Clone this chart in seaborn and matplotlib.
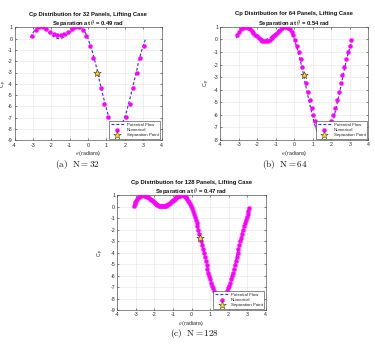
import matplotlib
matplotlib.use("Agg")
import matplotlib.pyplot as plt
import seaborn as sns

sns.set_theme(style="whitegrid")
plt.rcParams['font.family'] = ['Liberation Sans', 'DejaVu Sans']
plt.rcParams['mathtext.fontset'] = 'cm'
plt.rcParams['axes.unicode_minus'] = False

# ---------------- data ----------------
panel_counts = [32, 64, 128]
sep_theta = [0.49, 0.54, 0.47]
sep_cp = [-3.02, -2.83, -2.68]
caption_tags = ["(a)", "(b)", "(c)"]
y_lower = [-9, -8, -9]
x_ticks = [-4, -3, -2, -1, 0, 1, 2, 3, 4]

theta_32 = [-3.04, -2.85, -2.65, -2.45, -2.26, -2.06, -1.87, -1.67,
            -1.47, -1.28, -1.08, -0.88, -0.69, -0.49, -0.29, -0.10,
            0.10, 0.29, 0.49, 0.69, 0.88, 1.08, 1.28, 1.47,
            1.67, 1.87, 2.06, 2.26, 2.45, 2.65, 2.85, 3.04]
cp_32 = [0.23, 0.76, 1.00, 1.00, 0.86, 0.61, 0.42, 0.32,
         0.32, 0.42, 0.61, 0.86, 1.00, 1.00, 0.76, 0.23,
         -0.63, -1.72, -3.02, -4.40, -5.76, -6.91, -7.73, -8.12,
         -8.12, -7.73, -6.91, -5.76, -4.40, -3.02, -1.72, -0.63]

theta_64 = [-3.09, -2.99, -2.90, -2.80, -2.70, -2.60, -2.50, -2.41,
            -2.31, -2.21, -2.11, -2.01, -1.91, -1.82, -1.72, -1.62,
            -1.52, -1.42, -1.33, -1.23, -1.13, -1.03, -0.93, -0.83,
            -0.74, -0.64, -0.54, -0.44, -0.34, -0.25, -0.15, -0.05,
            0.05, 0.15, 0.25, 0.34, 0.44, 0.54, 0.64, 0.74,
            0.83, 0.93, 1.03, 1.13, 1.23, 1.33, 1.42, 1.52,
            1.62, 1.72, 1.82, 1.91, 2.01, 2.11, 2.21, 2.31,
            2.41, 2.50, 2.60, 2.70, 2.80, 2.90, 2.99, 3.09]
cp_64 = [0.31, 0.59, 0.80, 0.93, 0.99, 0.99, 0.93, 0.83,
         0.70, 0.54, 0.38, 0.23, 0.09, -0.02, -0.10, -0.14,
         -0.14, -0.10, -0.02, 0.09, 0.23, 0.38, 0.54, 0.70,
         0.83, 0.93, 0.99, 0.99, 0.93, 0.80, 0.59, 0.31,
         -0.06, -0.50, -1.01, -1.57, -2.19, -2.83, -3.50, -4.17,
         -4.82, -5.43, -6.00, -6.50, -6.91, -7.24, -7.46, -7.57,
         -7.57, -7.46, -7.24, -6.91, -6.50, -6.00, -5.43, -4.82,
         -4.17, -3.50, -2.83, -2.19, -1.57, -1.01, -0.50, -0.06]

theta_128 = [-3.12, -3.07, -3.02, -2.97, -2.92, -2.87, -2.82, -2.77,
             -2.72, -2.68, -2.63, -2.58, -2.53, -2.48, -2.43, -2.38,
             -2.33, -2.28, -2.23, -2.18, -2.14, -2.09, -2.04, -1.99,
             -1.94, -1.89, -1.84, -1.79, -1.74, -1.69, -1.64, -1.60,
             -1.55, -1.50, -1.45, -1.40, -1.35, -1.30, -1.25, -1.20,
             -1.15, -1.10, -1.06, -1.01, -0.96, -0.91, -0.86, -0.81,
             -0.76, -0.71, -0.66, -0.61, -0.56, -0.52, -0.47, -0.42,
             -0.37, -0.32, -0.27, -0.22, -0.17, -0.12, -0.07, -0.02,
             0.02, 0.07, 0.12, 0.17, 0.22, 0.27, 0.32, 0.37,
             0.42, 0.47, 0.52, 0.56, 0.61, 0.66, 0.71, 0.76,
             0.81, 0.86, 0.91, 0.96, 1.01, 1.06, 1.10, 1.15,
             1.20, 1.25, 1.30, 1.35, 1.40, 1.45, 1.50, 1.55,
             1.60, 1.64, 1.69, 1.74, 1.79, 1.84, 1.89, 1.94,
             1.99, 2.04, 2.09, 2.14, 2.18, 2.23, 2.28, 2.33,
             2.38, 2.43, 2.48, 2.53, 2.58, 2.63, 2.68, 2.72,
             2.77, 2.82, 2.87, 2.92, 2.97, 3.02, 3.07, 3.12]
cp_128 = [0.06, 0.24, 0.40, 0.54, 0.66, 0.76, 0.85, 0.91,
          0.96, 0.99, 1.00, 1.00, 0.98, 0.96, 0.92, 0.87,
          0.82, 0.76, 0.69, 0.62, 0.55, 0.48, 0.41, 0.35,
          0.28, 0.23, 0.18, 0.13, 0.10, 0.07, 0.05, 0.04,
          0.04, 0.05, 0.07, 0.10, 0.13, 0.18, 0.23, 0.28,
          0.35, 0.41, 0.48, 0.55, 0.62, 0.69, 0.76, 0.82,
          0.87, 0.92, 0.96, 0.98, 1.00, 1.00, 0.99, 0.96,
          0.91, 0.85, 0.76, 0.66, 0.54, 0.40, 0.24, 0.06,
          -0.14, -0.36, -0.60, -0.85, -1.13, -1.41, -1.71, -2.03,
          -2.35, -2.68, -3.02, -3.37, -3.72, -4.06, -4.41, -4.76,
          -5.09, -5.42, -5.74, -6.05, -6.34, -6.62, -6.88, -7.11,
          -7.33, -7.52, -7.69, -7.83, -7.94, -8.03, -8.09, -8.12,
          -8.12, -8.09, -8.03, -7.94, -7.83, -7.69, -7.52, -7.33,
          -7.11, -6.88, -6.62, -6.34, -6.05, -5.74, -5.42, -5.09,
          -4.76, -4.41, -4.06, -3.72, -3.37, -3.02, -2.68, -2.35,
          -2.03, -1.71, -1.41, -1.13, -0.85, -0.60, -0.36, -0.14]

# potential-flow (analytic) curve, read at the 128 fine stations
theta_potential = theta_128
cp_potential = [0.10, 0.27, 0.43, 0.57, 0.68, 0.78, 0.86, 0.92,
                0.96, 0.99, 1.00, 1.00, 0.98, 0.95, 0.91, 0.86,
                0.80, 0.74, 0.67, 0.60, 0.52, 0.45, 0.38, 0.31,
                0.25, 0.19, 0.14, 0.09, 0.06, 0.03, 0.01, 0.00,
                0.00, 0.01, 0.03, 0.06, 0.09, 0.14, 0.19, 0.25,
                0.31, 0.38, 0.45, 0.52, 0.60, 0.67, 0.74, 0.80,
                0.86, 0.91, 0.95, 0.98, 1.00, 1.00, 0.99, 0.96,
                0.92, 0.86, 0.78, 0.68, 0.57, 0.43, 0.27, 0.10,
                -0.10, -0.32, -0.55, -0.80, -1.07, -1.35, -1.65, -1.96,
                -2.28, -2.61, -2.94, -3.28, -3.63, -3.98, -4.32, -4.66,
                -5.00, -5.32, -5.64, -5.94, -6.23, -6.51, -6.76, -7.00,
                -7.21, -7.40, -7.57, -7.71, -7.82, -7.91, -7.97, -8.00,
                -8.00, -7.97, -7.91, -7.82, -7.71, -7.57, -7.40, -7.21,
                -7.00, -6.76, -6.51, -6.23, -5.94, -5.64, -5.32, -5.00,
                -4.66, -4.32, -3.98, -3.63, -3.28, -2.94, -2.61, -2.28,
                -1.96, -1.65, -1.35, -1.07, -0.80, -0.55, -0.32, -0.10]

numerical_theta = [theta_32, theta_64, theta_128]
numerical_cp = [cp_32, cp_64, cp_128]

# ---------------- layout (pixels of the 375x346 canvas) ----------------
W, H = 375.0, 346.0
axes_px = [(14.5, 27.3, 161.5, 140.3),
           (220.3, 26.8, 368.3, 140.0),
           (117.3, 195.3, 265.7, 310.0)]
ylabel_px = [4.0, 207.0, 101.0]
caption_px = [(77.5, 164.5), (284.7, 164.5), (195.0, 334.0)]

fig = plt.figure(figsize=(W / 100, H / 100), dpi=100)
fig.patch.set_facecolor("white")

MAG = "#ff00ff"
BLUE = "#2a2aff"
AXC = "#262626"

for k in range(3):
    l, t, r, b = axes_px[k]
    ax = fig.add_axes([l / W, 1 - b / H, (r - l) / W, (b - t) / H])
    ax.set_facecolor("white")

    sns.lineplot(x=theta_potential, y=cp_potential, ax=ax, color=BLUE,
                 linewidth=0.8, linestyle="--", sort=False, estimator=None,
                 label="Potential Flow", zorder=2)
    ax.lines[-1].set_dashes((2.6, 1.8))
    sns.scatterplot(x=numerical_theta[k], y=numerical_cp[k], ax=ax,
                    color=MAG, s=9, edgecolor=MAG, linewidth=0.2,
                    label="Numerical", zorder=3)
    sns.scatterplot(x=[sep_theta[k]], y=[sep_cp[k]], ax=ax, marker="*",
                    color="#f0e020", s=32, edgecolor="#3a3a10", linewidth=0.35,
                    label="Separation Point", zorder=4)

    ax.set_xlim(-4, 4)
    ax.set_ylim(y_lower[k], 1)
    ax.set_xticks(x_ticks)
    ax.set_yticks(list(range(y_lower[k], 2)))
    ax.grid(True, color="#e3e3e3", linewidth=0.4)
    for sp in ax.spines.values():
        sp.set_visible(True)
        sp.set_color("#4a4a4a")
        sp.set_linewidth(0.45)
    ax.tick_params(direction="in", length=1.6, width=0.4, labelsize=3.8,
                   pad=1.6, colors=AXC, top=True, right=True,
                   bottom=True, left=True)

    ax.set_title(f"Cp Distribution for {panel_counts[k]} Panels, Lifting Case\n"
                 f"Separation at $\\theta$ = {sep_theta[k]:.2f} rad",
                 fontsize=4.2, fontweight="bold", pad=1.6, color="#111111",
                 linespacing=1.2)
    ax.set_xlabel(r"$\theta$ (radians)", fontsize=3.8, labelpad=1.3, color=AXC)
    ax.set_ylabel(r"C$_{\mathregular{p}}$", fontsize=3.8, color=AXC)
    ax.yaxis.label.set_verticalalignment("center")
    ax.yaxis.label.set_horizontalalignment("center")
    ax.yaxis.set_label_coords((ylabel_px[k] - l) / (r - l), 0.5)

    leg = ax.legend(loc="lower right", fontsize=3.2, frameon=True,
                    framealpha=1, fancybox=False, edgecolor="#333333",
                    borderpad=0.35, labelspacing=0.25, handlelength=3.0,
                    handletextpad=0.6, borderaxespad=0.3)
    leg.get_frame().set_linewidth(0.4)
    leg.set_zorder(10)

    cx, cy = caption_px[k]
    fig.text(cx / W, 1 - cy / H,
             r"$\mathrm{" + caption_tags[k] + r"}\ \ \mathrm{N} = " + str(panel_counts[k]) + "$",
             ha="center", va="center", fontsize=6.6, color="#111111")

fig.savefig("out.png", dpi=100, facecolor="white")
